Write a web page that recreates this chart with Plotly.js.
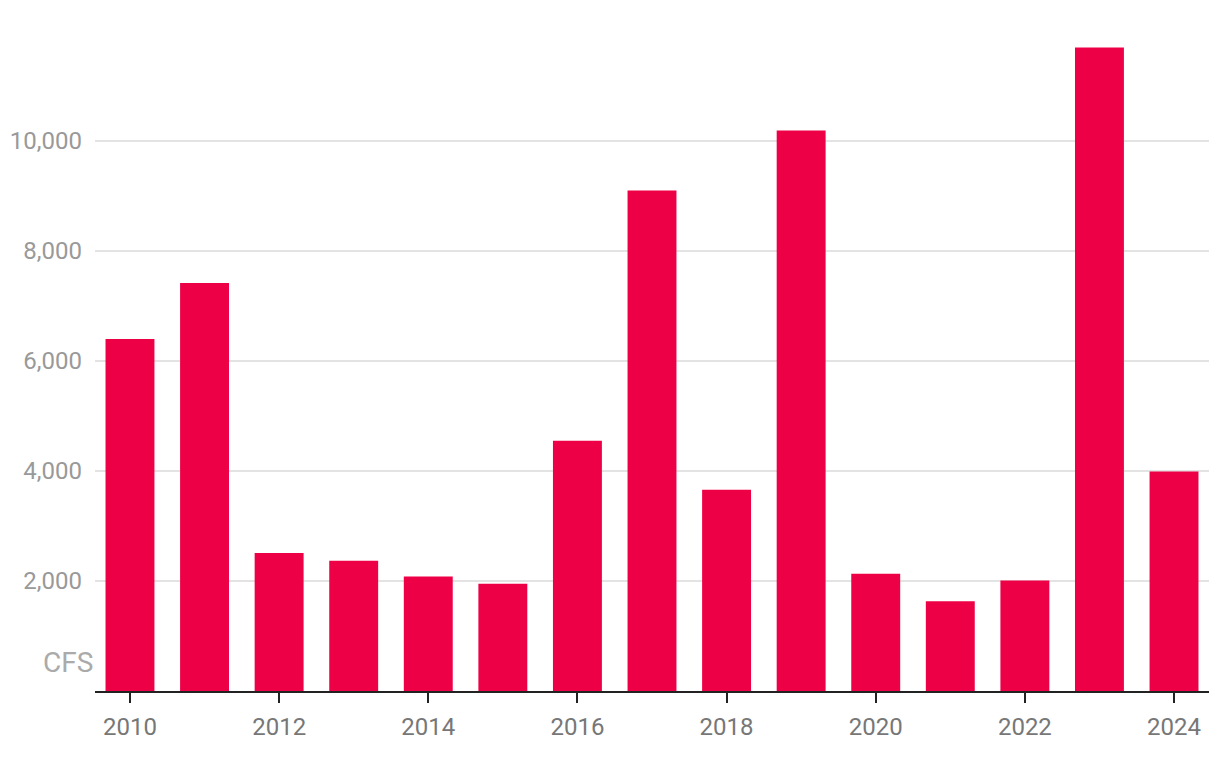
<!DOCTYPE html>
<html>
<head>
<meta charset="utf-8">
<script src="https://cdn.plot.ly/plotly-3.0.1.min.js"></script>
<style>
html,body{margin:0;padding:0;background:#fff;}
#chart{width:1220px;height:758px;}
</style>
</head>
<body>
<div id="chart"></div>
<script>
const years = [2010, 2011, 2012, 2013, 2014, 2015, 2016, 2017, 2018, 2019, 2020, 2021, 2022, 2023, 2024];
const cfs = [6400, 7420, 2510, 2370, 2080, 1950, 4550, 9100, 3660, 10190, 2130, 1630, 2010, 11700, 3990];
const yTicks = [2000, 4000, 6000, 8000, 10000];
const xTicks = [2010, 2012, 2014, 2016, 2018, 2020, 2022, 2024];
const unitLabel = 'CFS';

const trace = {
  type: 'bar',
  x: years,
  y: cfs,
  marker: {color: '#ED0046'},
  hoverinfo: 'x+y'
};

const layout = {
  width: 1220,
  height: 758,
  margin: {l: 95, r: 11, t: 10, b: 67},
  paper_bgcolor: '#fff',
  plot_bgcolor: '#fff',
  bargap: 0.344,
  showlegend: false,
  font: {family: 'Roboto, sans-serif'},
  xaxis: {
    range: [2009.531, 2024.469],
    tickvals: xTicks,
    ticktext: xTicks.map(String),
    ticks: 'outside',
    ticklen: 10,
    tickwidth: 2,
    tickcolor: '#222',
    showline: true,
    linecolor: '#222',
    linewidth: 2,
    showgrid: false,
    zeroline: false,
    ticklabelstandoff: 3,
    tickfont: {size: 24, color: '#777', family: 'Roboto, sans-serif'}
  },
  yaxis: {
    range: [0, 12382],
    tickvals: yTicks,
    ticktext: yTicks.map(v => v.toLocaleString('en-US')),
    showgrid: true,
    gridcolor: '#e3e3e3',
    gridwidth: 1.5,
    zeroline: false,
    showline: false,
    ticks: '',
    ticklabelstandoff: 12,
    tickfont: {size: 24, color: '#999', family: 'Roboto, sans-serif'}
  },
  annotations: [{
    text: unitLabel,
    xref: 'paper', yref: 'y',
    x: 0, y: 0,
    xanchor: 'right', yanchor: 'bottom',
    xshift: 0, yshift: 10,
    showarrow: false,
    font: {size: 28, color: '#aaa', family: 'Roboto, sans-serif'}
  }]
};

Plotly.newPlot('chart', [trace], layout, {displayModeBar: false, staticPlot: true});
</script>
</body>
</html>
